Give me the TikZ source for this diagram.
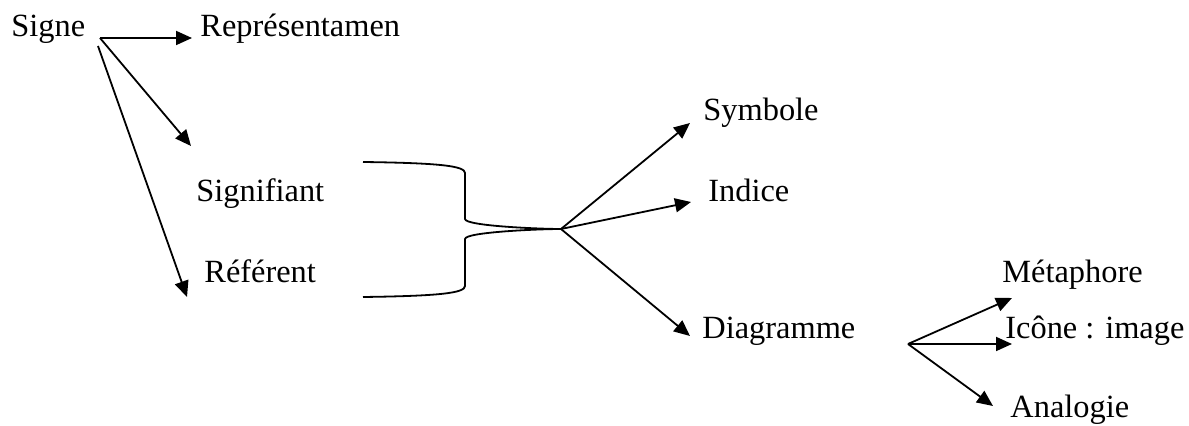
\documentclass[tikz,border=0pt]{standalone}
\usepackage{fontspec}
\setmainfont{Liberation Serif}
\usetikzlibrary{arrows.meta}
\begin{document}
\begin{tikzpicture}[x=0.5pt,y=-0.5pt,
  lbl/.style={anchor=base west,inner sep=0pt,font=\fontsize{16.2pt}{19pt}\selectfont},
  arr/.style={line width=0.9pt,-{Triangle[length=8pt,width=7pt]}},
  brace/.style={line width=0.9pt}]
\useasboundingbox (0,0) rectangle (1189,426);
% labels
\node[lbl] (signe)  at (11,37)   {Signe};
\node[lbl] (repr)   at (200,37)  {Représentamen};
\node[lbl] (signif) at (196,202) {Signifiant};
\node[lbl] (refer)  at (204,283) {Référent};
\node[lbl] (symb)   at (703,121) {Symbole};
\node[lbl] (indice) at (708,202) {Indice};
\node[lbl] (diag)   at (702,339) {Diagramme};
\node[lbl] (meta)   at (1002,283) {Métaphore};
\node[lbl] (icone)  at (1005,339) {Icône : image};
\node[lbl] (analog) at (1010,418) {Analogie};
% junction points
\coordinate (s1) at (100,38);
\coordinate (s2) at (98,46);
\coordinate (hubA) at (561,229);
\coordinate (hubB) at (908,344);
\coordinate (tR) at (192,38);
\coordinate (tSf) at (191,146);
\coordinate (tRf) at (187,297);
\coordinate (tSy) at (690,123);
\coordinate (tIn) at (691,202);
\coordinate (tDi) at (690,336);
\coordinate (tMe) at (1012,298);
\coordinate (tIc) at (1012,344);
\coordinate (tAn) at (993,406);
\coordinate (bTop) at (363,162);
\coordinate (bBot) at (363,297);
% arrows
\draw[arr] (s1) -- (tR);
\draw[arr] (s1) -- (tSf);
\draw[arr] (s2) -- (tRf);
\draw[arr] (hubA) -- (tSy);
\draw[arr] (hubA) -- (tIn);
\draw[arr] (hubA) -- (tDi);
\draw[arr] (hubB) -- (tMe);
\draw[arr] (hubB) -- (tIc);
\draw[arr] (hubB) -- (tAn);
% brace
\draw[brace] (bTop) .. controls (440,163) and (465,166) .. (465,173) -- (465,219)
  .. controls (465,226) and (540,229) .. (hubA);
\draw[brace] (hubA) .. controls (540,229) and (465,232) .. (465,239) -- (465,286)
  .. controls (465,293) and (440,296) .. (bBot);
\end{tikzpicture}
\end{document}
